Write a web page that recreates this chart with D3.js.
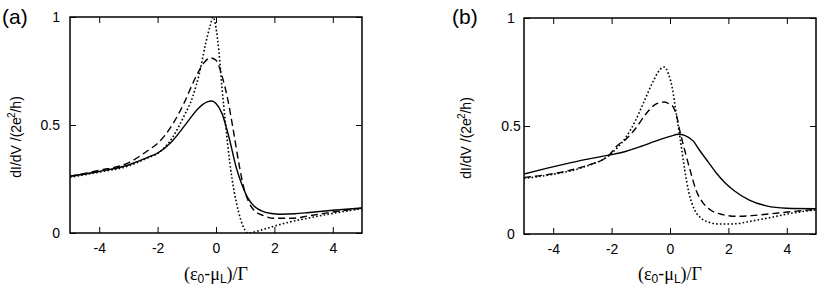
<!DOCTYPE html>
<html>
<head>
<meta charset="utf-8">
<script src="https://cdnjs.cloudflare.com/ajax/libs/d3/7.8.5/d3.min.js"></script>
<style>
body { margin: 0; background: #fff; }
svg { display: block; font-family: "Liberation Sans", Arial, sans-serif; }
.tick line { stroke: #000; stroke-width: 1; }
</style>
</head>
<body>
<div id="chart"></div>
<script>
// tick values
var xTicks = [-4, -2, 0, 2, 4];
var yTicks = [0, 0.5, 1];

// panel (a) curves, [x, dI/dV]
var aSolid = [[-5,0.263],[-4,0.285],[-3,0.315],[-2.3,0.352],[-2,0.37],[-1.5,0.425],[-1.0,0.51],[-0.6,0.578],[-0.3,0.607],[-0.15,0.611],[0.0,0.6],[0.2,0.555],[0.45,0.44],[0.7,0.3],[0.9,0.22],[1.1,0.16],[1.3,0.125],[1.6,0.1],[1.9,0.09],[2.2,0.087],[2.7,0.089],[3.2,0.095],[4,0.105],[5,0.116]];
var aDashed = [[-5,0.263],[-4,0.29],[-3,0.325],[-2.3,0.385],[-2,0.415],[-1.5,0.5],[-1.1,0.6],[-0.7,0.72],[-0.4,0.79],[-0.2,0.811],[0,0.8],[0.2,0.73],[0.4,0.62],[0.6,0.47],[0.8,0.31],[0.95,0.21],[1.1,0.15],[1.3,0.105],[1.6,0.082],[2.0,0.068],[2.6,0.068],[3.2,0.08],[4,0.097],[5,0.115]];
var aDotted = [[-5,0.258],[-4,0.282],[-3,0.31],[-2.3,0.35],[-2,0.368],[-1.5,0.44],[-1.1,0.54],[-0.8,0.63],[-0.55,0.75],[-0.35,0.88],[-0.2,0.96],[-0.1,1.0],[0.0,0.95],[0.1,0.84],[0.2,0.68],[0.3,0.54],[0.4,0.41],[0.55,0.25],[0.7,0.14],[0.85,0.06],[1.0,0.012],[1.1,0.0],[1.5,0.012],[2.0,0.032],[2.65,0.055],[3.2,0.07],[3.8,0.086],[4.4,0.1],[5,0.113]];

// panel (b) curves
var bSolid = [[-5,0.278],[-4.2,0.305],[-3.5,0.327],[-3,0.342],[-2.1,0.365],[-1.5,0.383],[-1,0.405],[-0.5,0.43],[0,0.452],[0.3,0.462],[0.5,0.457],[0.8,0.43],[1.0,0.39],[1.3,0.335],[1.6,0.28],[1.9,0.235],[2.2,0.2],[2.7,0.158],[3.3,0.13],[4,0.119],[5,0.117]];
var bDashed = [[-5,0.262],[-4.2,0.275],[-3,0.311],[-2.1,0.363],[-1.8,0.41],[-1.5,0.44],[-1.2,0.485],[-0.8,0.56],[-0.5,0.6],[-0.2,0.611],[0,0.6],[0.1,0.59],[0.2,0.56],[0.35,0.47],[0.5,0.39],[0.7,0.29],[0.9,0.2],[1.1,0.15],[1.4,0.11],[1.8,0.09],[2.3,0.082],[2.8,0.085],[3.4,0.093],[4.2,0.104],[5,0.114]];
var bDotted = [[-5,0.257],[-4.2,0.272],[-3,0.308],[-2.1,0.363],[-1.8,0.4],[-1.5,0.45],[-1.2,0.52],[-0.9,0.61],[-0.6,0.7],[-0.35,0.76],[-0.2,0.773],[-0.05,0.74],[0.1,0.66],[0.2,0.57],[0.35,0.44],[0.5,0.3],[0.65,0.19],[0.85,0.11],[1.05,0.075],[1.4,0.052],[1.7,0.046],[2.2,0.047],[2.8,0.06],[3.4,0.075],[4.2,0.097],[5,0.112]];

var dashes = [null, "7,4", "1.6,2.2"];

var panels = [
  {label: "(a)", labelX: 2, left: 70, right: 362, top: 17, bottom: 233,
   yLab: 21, yTickX: 60, yTickAnchor: "end", curves: [aSolid, aDashed, aDotted]},
  {label: "(b)", labelX: 452, left: 524, right: 816, top: 18, bottom: 234,
   yLab: 471, yTickX: 511, yTickAnchor: "middle", curves: [bSolid, bDashed, bDotted]}
];

var svg = d3.select("#chart").append("svg")
  .attr("width", 817)
  .attr("height", 290);

function drawPanel(p) {
  var xScale = d3.scaleLinear().domain([-5, 5]).range([p.left, p.right]);
  var yScale = d3.scaleLinear().domain([0, 1]).range([p.bottom, p.top]);
  var g = svg.append("g");

  // clip so the curves stay inside the frame
  var clipId = "clip" + p.left;
  svg.append("clipPath").attr("id", clipId)
    .append("rect")
    .attr("x", p.left).attr("y", p.top)
    .attr("width", p.right - p.left).attr("height", p.bottom - p.top);

  var line = d3.line()
    .x(function (d) { return xScale(d[0]); })
    .y(function (d) { return yScale(d[1]); })
    .curve(d3.curveMonotoneX);

  g.append("g").attr("clip-path", "url(#" + clipId + ")")
    .selectAll("path")
    .data(p.curves)
    .enter()
    .append("path")
    .attr("d", line)
    .attr("fill", "none")
    .attr("stroke", "#000")
    .attr("stroke-width", function (d, i) { return i == 2 ? 1.6 : 1.4; })
    .attr("stroke-dasharray", function (d, i) { return dashes[i]; });

  // bottom axis with labels
  var xAxis = d3.axisBottom(xScale).tickValues(xTicks)
    .tickSizeInner(-6).tickSizeOuter(0).tickPadding(10)
    .tickFormat(function (d) { return d; });
  var xg = g.append("g")
    .attr("transform", "translate(0," + p.bottom + ")")
    .call(xAxis);

  // top mirror ticks
  g.append("g")
    .attr("transform", "translate(0," + p.top + ")")
    .call(d3.axisTop(xScale).tickValues(xTicks).tickSizeInner(-6).tickSizeOuter(0).tickFormat(""));

  // left axis
  var yAxis = d3.axisLeft(yScale).tickValues(yTicks)
    .tickSizeInner(-6).tickSizeOuter(0)
    .tickFormat(function (d) { return String(d); });
  var yg = g.append("g")
    .attr("transform", "translate(" + p.left + ",0)")
    .call(yAxis);

  // right mirror ticks
  g.append("g")
    .attr("transform", "translate(" + p.right + ",0)")
    .call(d3.axisRight(yScale).tickValues(yTicks).tickSizeInner(-6).tickSizeOuter(0).tickFormat(""));

  g.selectAll(".domain").remove();
  g.selectAll(".tick text")
    .attr("fill", "#000")
    .style("font-size", "14px")
    .style("font-family", "\"Liberation Sans\", Arial, sans-serif");

  yg.selectAll(".tick text")
    .attr("x", p.yTickX - p.left)
    .attr("text-anchor", p.yTickAnchor);

  // frame
  g.append("rect")
    .attr("x", p.left).attr("y", p.top)
    .attr("width", p.right - p.left).attr("height", p.bottom - p.top)
    .attr("fill", "none")
    .attr("stroke", "#000")
    .attr("stroke-width", 1.5);

  // panel label
  g.append("text")
    .attr("x", p.labelX).attr("y", 24)
    .style("font-size", "21px")
    .text(p.label);

  // x title (eps0 - muL)/Gamma
  var xt = g.append("text")
    .attr("x", xScale(0)).attr("y", 280)
    .attr("text-anchor", "middle")
    .style("font-size", "18px")
    .style("font-family", "\"Liberation Serif\", \"Times New Roman\", serif");
  xt.append("tspan").text("(ε");
  xt.append("tspan").attr("dy", 3).style("font-size", "12px")
    .style("font-family", "\"Liberation Sans\", Arial, sans-serif").text("0");
  xt.append("tspan").attr("dy", -3)
    .style("font-family", "\"Liberation Sans\", Arial, sans-serif").text("-");
  xt.append("tspan").text("μ");
  xt.append("tspan").attr("dy", 3).style("font-size", "12px")
    .style("font-family", "\"Liberation Sans\", Arial, sans-serif").text("L");
  xt.append("tspan").attr("dy", -3).text(")/Γ");

  // y title dI/dV /(2e^2/h)
  var cy = (p.top + p.bottom) / 2 + 12;
  var yt = g.append("text")
    .attr("transform", "translate(" + p.yLab + "," + cy + ") rotate(-90)")
    .attr("text-anchor", "middle")
    .style("font-size", "14px");
  yt.append("tspan").text("dI/dV /(2e");
  yt.append("tspan").attr("dy", -6).attr("dx", -1).style("font-size", "10px").text("2");
  yt.append("tspan").attr("dy", 6).text("/h)");
}

panels.forEach(drawPanel);
</script>
</body>
</html>
